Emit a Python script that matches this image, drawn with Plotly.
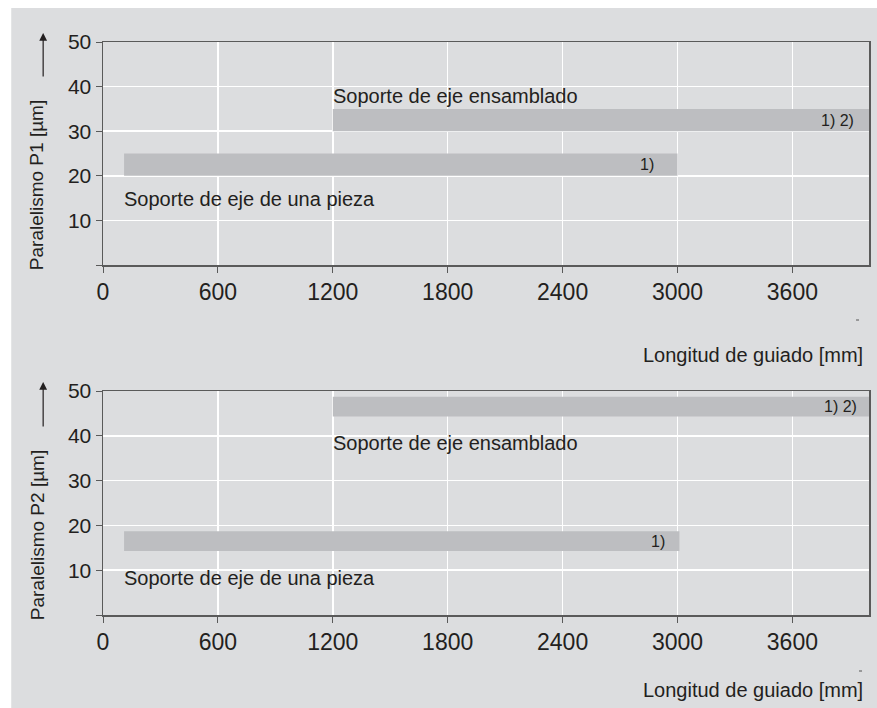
import plotly.graph_objects as go

# ---------------- data ----------------
x_ticks = [0, 600, 1200, 1800, 2400, 3000, 3600]
x_ticktext = ["0", "600", "1200", "1800", "2400", "3000", "3600"]
y_ticks = [0, 10, 20, 30, 40, 50]
y_ticktext = ["", "10", "20", "30", "40", "50"]

bar_names = ["Soporte de eje ensamblado", "Soporte de eje de una pieza"]
bar_notes = ["1) 2)", "1)"]

# Chart 1: Paralelismo P1
p1_start = [1200, 110]
p1_end = [4000, 3000]
p1_low = [30, 20]
p1_high = [35, 25]
p1_label_y = [38.0, 14.8]

# Chart 2: Paralelismo P2
p2_start = [1200, 110]
p2_end = [4000, 3010]
p2_low = [44.3, 14.3]
p2_high = [48.7, 18.7]
p2_label_y = [38.4, 8.3]

# ---------------- style ----------------
FONT = "Liberation Sans, Arial, Helvetica, sans-serif"
TXT = "#231f20"
BG = "#dcdddf"
BAR = "#bdbec1"
AX = "#5a5a5a"

W, H = 877, 708
L, R, T, B = 103, 6, 42, 93
PW, PH = W - L - R, H - T - B


def px_x(px):
    # screen pixel -> paper x
    return (px - L) / PW


def px_y(py):
    # screen pixel -> paper y
    return (H - B - py) / PH


fig = go.Figure()

charts = [
    (p1_start, p1_end, p1_low, p1_high, p1_label_y, "x", "y"),
    (p2_start, p2_end, p2_low, p2_high, p2_label_y, "x2", "y2"),
]

note_shift = [[-13, -22], [-10, -12]]

annotations = []
for ci, (st, en, lo, hi, ly, xa, ya) in enumerate(charts):
    fig.add_trace(go.Bar(
        orientation="h",
        base=st,
        x=[e - s for s, e in zip(st, en)],
        y=[(a + b) / 2 for a, b in zip(lo, hi)],
        width=[b - a for a, b in zip(lo, hi)],
        marker=dict(color=BAR, line=dict(width=0)),
        xaxis=xa, yaxis=ya, hoverinfo="skip", showlegend=False,
    ))
    for i in range(len(st)):
        annotations.append(dict(
            x=st[i], y=ly[i], xref=xa, yref=ya, text=bar_names[i],
            showarrow=False, xanchor="left", yanchor="middle", xshift=-2,
            font=dict(family=FONT, size=20, color=TXT)))
        annotations.append(dict(
            x=en[i], y=(lo[i] + hi[i]) / 2, xref=xa, yref=ya, text=bar_notes[i],
            showarrow=False, xanchor="right", yanchor="middle",
            xshift=note_shift[ci][i],
            font=dict(family=FONT, size=16, color=TXT)))

# axis titles (rotated y titles with arrows, right-aligned x titles)
for title, cy, arrow_head, arrow_tail in [
    ("Paralelismo P1 [µm]", 185, 33, 78),
    ("Paralelismo P2 [µm]", 535, 382, 428),
]:
    annotations.append(dict(
        x=px_x(37), y=px_y(cy), xref="paper", yref="paper", text=title,
        textangle=-90, showarrow=False, xanchor="center", yanchor="middle",
        font=dict(family=FONT, size=19, color=TXT)))
    annotations.append(dict(
        x=px_x(43), y=px_y(arrow_head), xref="paper", yref="paper", text="",
        showarrow=True, ax=0, ay=arrow_tail - arrow_head, arrowhead=2,
        arrowsize=1.3, arrowwidth=1.2, arrowcolor=TXT))

for cy in [355, 690]:
    annotations.append(dict(
        x=px_x(867), y=px_y(cy), xref="paper", yref="paper",
        text="Longitud de guiado [mm]", showarrow=False,
        xanchor="right", yanchor="middle",
        font=dict(family=FONT, size=20, color=TXT)))

shapes = [
    dict(type="rect", xref="paper", yref="paper", layer="below",
         x0=px_x(11), x1=px_x(880), y0=px_y(712), y1=px_y(8),
         fillcolor=BG, line=dict(width=0)),
]
for (dx, dy) in [(859, 320), (862, 671)]:
    shapes.append(dict(type="line", xref="paper", yref="paper",
                       x0=px_x(dx - 1), x1=px_x(dx + 2), y0=px_y(dy), y1=px_y(dy),
                       line=dict(color="#555555", width=1)))

xaxis_common = dict(
    range=[0, 4000], tickvals=x_ticks, ticktext=x_ticktext,
    showgrid=True, gridcolor="white", gridwidth=1.5,
    showline=True, linecolor=AX, linewidth=1.5, mirror=True,
    ticks="outside", ticklen=6, tickcolor=AX, tickwidth=1,
    tickfont=dict(family=FONT, size=23, color=TXT), zeroline=False,
    fixedrange=True,
)
yaxis_common = dict(
    range=[0, 50], tickvals=y_ticks, ticktext=y_ticktext,
    showgrid=True, gridcolor="white", gridwidth=1.5,
    showline=True, linecolor=AX, linewidth=1.5, mirror=True,
    ticks="outside", ticklen=6, tickcolor=AX, tickwidth=1,
    tickfont=dict(family=FONT, size=21, color=TXT), zeroline=False,
    fixedrange=True,
)

top_bottom = 1 - 223 / PH
bot_top = (PH - (391 - T)) / PH

fig.update_layout(
    width=W, height=H,
    margin=dict(l=L, r=R, t=T, b=B, pad=0),
    paper_bgcolor="white", plot_bgcolor=BG,
    showlegend=False, hovermode=False, barmode="overlay",
    xaxis=dict(xaxis_common, domain=[0, 1], anchor="y"),
    yaxis=dict(yaxis_common, domain=[top_bottom, 1], anchor="x"),
    xaxis2=dict(xaxis_common, domain=[0, 1], anchor="y2"),
    yaxis2=dict(yaxis_common, domain=[0, bot_top], anchor="x2"),
    annotations=annotations, shapes=shapes,
)

fig.write_html(
    "out.html",
    config={"displayModeBar": False, "staticPlot": True},
    post_script="document.body.style.margin='0';document.body.style.overflow='hidden';",
)
